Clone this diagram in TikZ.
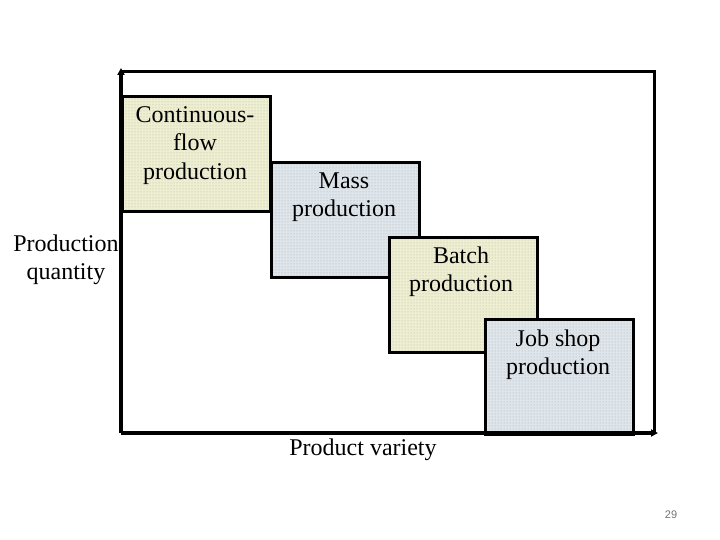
\documentclass[tikz,border=0pt]{standalone}
\usepackage{fontspec}
\setmainfont{Liberation Serif}
\newfontfamily\slidefont{Liberation Sans}
\usetikzlibrary{arrows.meta, positioning, patterns}

\definecolor{boxyellow}{RGB}{238,238,208}
\definecolor{boxblue}{RGB}{222,230,236}

\begin{document}
\begin{tikzpicture}[
    x=1pt, y=-1pt,
    box/.style={rectangle, draw, line width=3pt, minimum width=148pt, minimum height=115pt, anchor=north west, inner sep=0pt},
    ybox/.style={box, preaction={fill=boxyellow}, pattern=dots, pattern color=black!30},
    bbox/.style={box, preaction={fill=boxblue}, pattern=dots, pattern color=black!35},
    txt/.style={align=center, inner sep=0pt, font=\fontsize{24}{28.5}\selectfont},
    axis/.style={line width=4pt, -{Triangle[length=7pt, width=7pt]}},
]
\useasboundingbox (0,0) rectangle (720,540);

% frame
\draw[line width=3pt] (121,72) -- (654,72) -- (654,433);

% boxes, later ones on top
\node[ybox] (cont) at (121,95) {};
\node[bbox] (mass) at (270,161) {};
\node[ybox] (batch) at (388,236) {};
\node[bbox] (job) at (484,318) {};

% box texts
\node[txt] (conttxt) at (195,145.5) {Continuous-\\flow\\production};
\node[txt] (masstxt) at (344,197) {Mass\\production};
\node[txt] (batchtxt) at (461,271.5) {Batch\\production};
\node[txt] (jobtxt) at (558,354.5) {Job shop\\production};

% axes
\coordinate (o) at (121,433);
\coordinate (ytop) at (121,68);
\coordinate (xend) at (658,433);
\draw[axis] (o) -- (ytop);
\draw[axis] (o) -- (xend);

\node[txt] (quantity) at (66,260) {Production\\quantity};
\node[txt] (variety) at (363,450) {Product variety};

\node[font=\slidefont\fontsize{11}{13}\selectfont, text=black!55] (page) at (671,515) {29};

\end{tikzpicture}
\end{document}
